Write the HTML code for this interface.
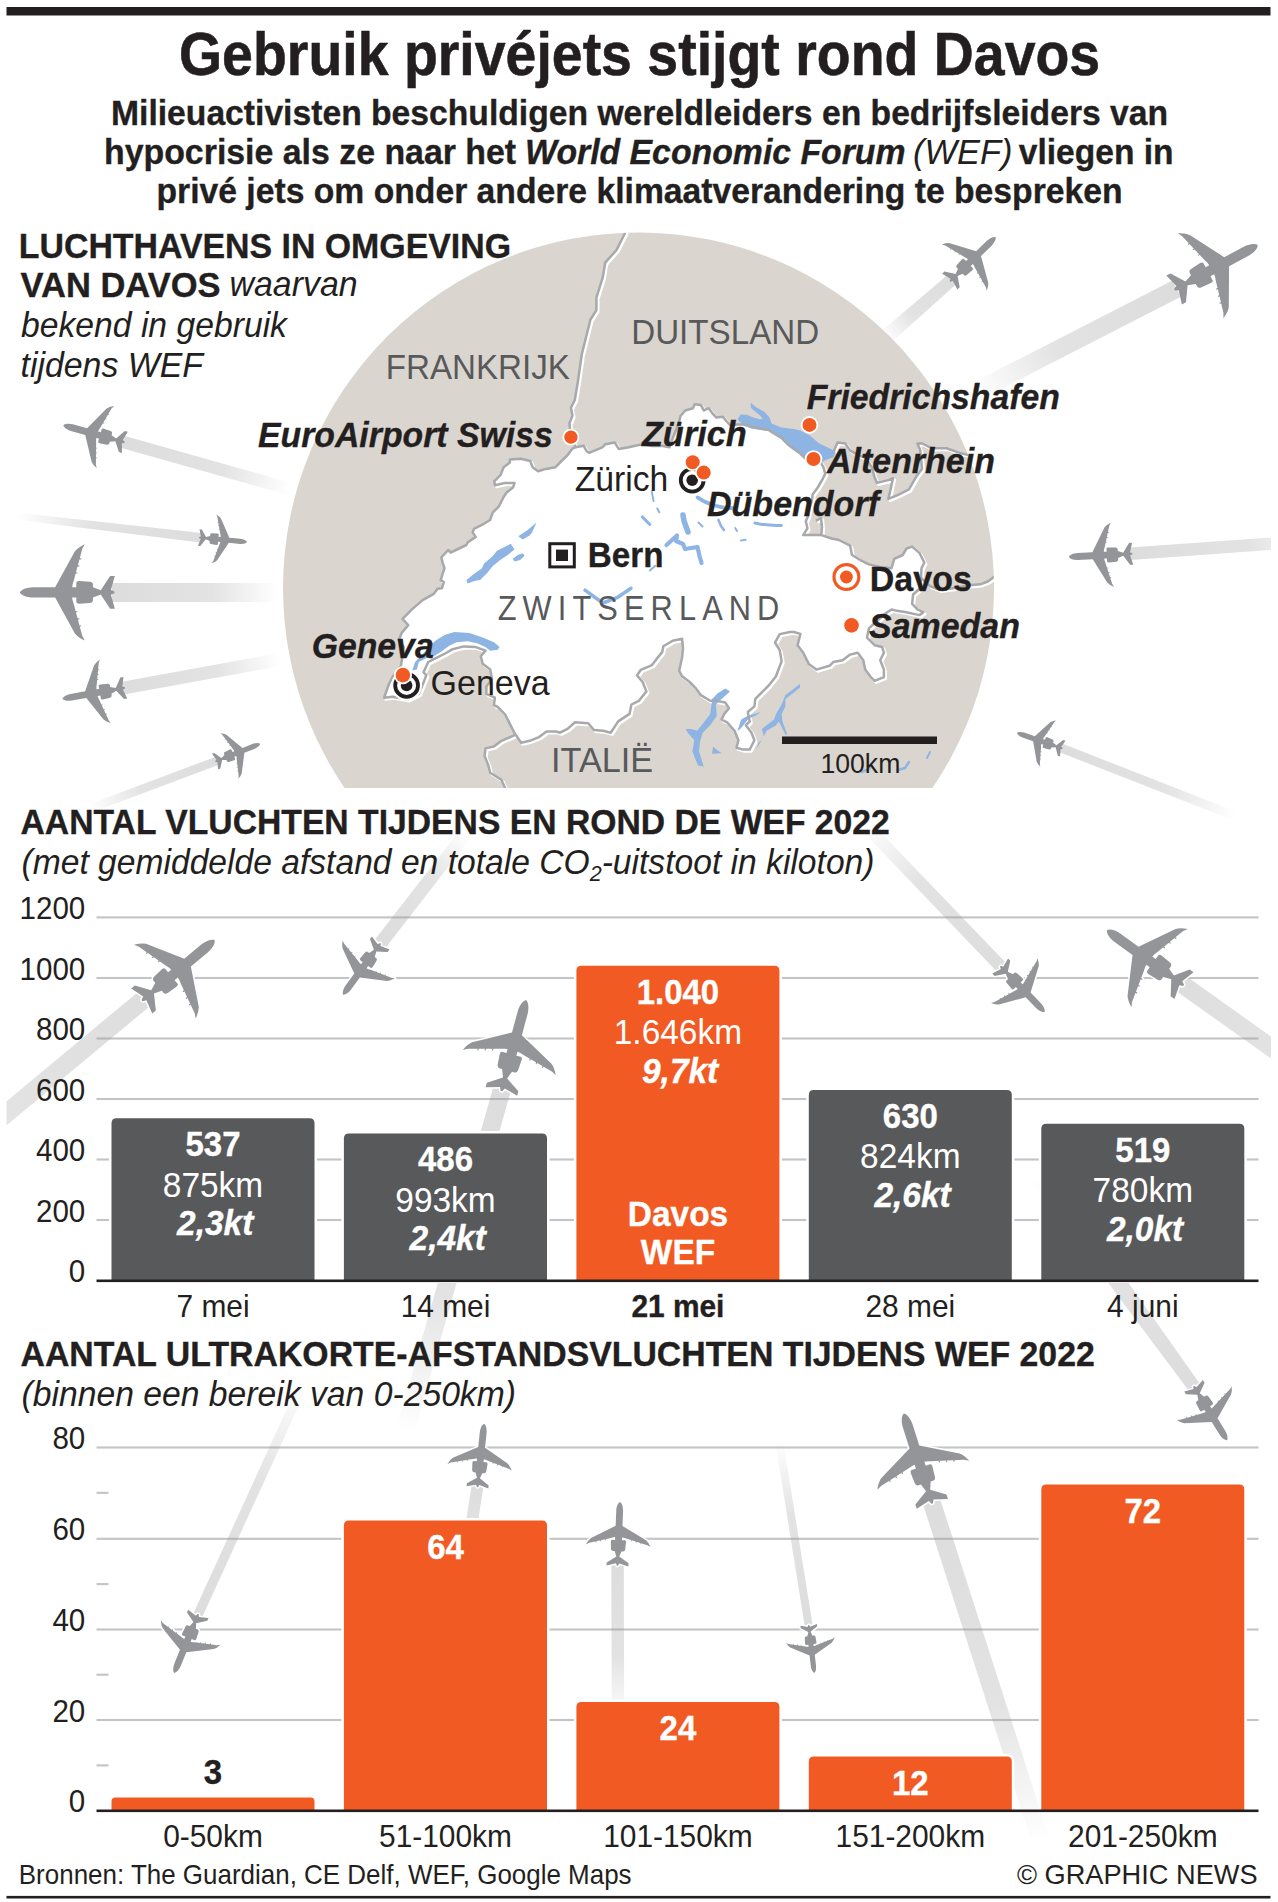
<!DOCTYPE html>
<html lang="nl"><head><meta charset="utf-8"><title>Gebruik privéjets stijgt rond Davos</title>
<style>html,body{margin:0;padding:0;background:#fff}svg{display:block}text{font-family:"Liberation Sans", sans-serif}</style></head>
<body><svg width="1278" height="1902" viewBox="0 0 1278 1902">
<defs><path id="pl" d="M0 0 C1.5 -3 7 -5.2 14 -5.4 L37.5 -5.4 L58.5 -43.5 Q61.5 -47.5 69 -51 L66.3 -46 L57.2 -12 Q55.6 -8 55.6 -5.4 L60 -5.4 L60 -10.2 Q60 -12 63 -12 L74.5 -11.2 Q77.7 -10.8 77.7 -8 L77.7 -5.4 L86 -2.3 L96 -17.3 L101 -17.3 L96.8 -2.6 L100.5 -0.9 L100.5 0 L100.5 0.9 L96.8 2.6 L101 17.3 L96 17.3 L86 2.3 L77.7 5.4 L77.7 8 Q77.7 10.8 74.5 11.2 L63 12 Q60 12 60 10.2 L60 5.4 L55.6 5.4 Q55.6 8 57.2 12 L66.3 46 L69 51 Q61.5 47.5 58.5 43.5 L37.5 5.4 L14 5.4 C7 5.2 1.5 3 0 0 ZM63 -36.1h2.2v1.2h-2.2zM63 34.9h2.2v1.2h-2.2zM61 -28.6h2.2v1.2h-2.2zM61 27.4h2.2v1.2h-2.2zM59 -21.1h2.2v1.2h-2.2zM59 19.9h2.2v1.2h-2.2z"/><linearGradient id="tg0" gradientUnits="userSpaceOnUse" x1="951.7" y1="279.8" x2="885.0" y2="338.0"><stop offset="0" stop-color="#9a9a9a" stop-opacity=".34"/><stop offset=".6" stop-color="#9a9a9a" stop-opacity=".28"/><stop offset="1" stop-color="#9a9a9a" stop-opacity="0"/></linearGradient><linearGradient id="tg1" gradientUnits="userSpaceOnUse" x1="1176.7" y1="288.6" x2="975.0" y2="392.0"><stop offset="0" stop-color="#9a9a9a" stop-opacity=".34"/><stop offset=".6" stop-color="#9a9a9a" stop-opacity=".28"/><stop offset="1" stop-color="#9a9a9a" stop-opacity="0"/></linearGradient><linearGradient id="tg2" gradientUnits="userSpaceOnUse" x1="122.4" y1="441.7" x2="290.0" y2="489.0"><stop offset="0" stop-color="#9a9a9a" stop-opacity=".34"/><stop offset=".6" stop-color="#9a9a9a" stop-opacity=".28"/><stop offset="1" stop-color="#9a9a9a" stop-opacity="0"/></linearGradient><linearGradient id="tg3" gradientUnits="userSpaceOnUse" x1="201.2" y1="537.7" x2="15.0" y2="516.0"><stop offset="0" stop-color="#9a9a9a" stop-opacity=".34"/><stop offset=".6" stop-color="#9a9a9a" stop-opacity=".28"/><stop offset="1" stop-color="#9a9a9a" stop-opacity="0"/></linearGradient><linearGradient id="tg4" gradientUnits="userSpaceOnUse" x1="111.9" y1="592.4" x2="278.0" y2="592.4"><stop offset="0" stop-color="#9a9a9a" stop-opacity=".34"/><stop offset=".6" stop-color="#9a9a9a" stop-opacity=".28"/><stop offset="1" stop-color="#9a9a9a" stop-opacity="0"/></linearGradient><linearGradient id="tg5" gradientUnits="userSpaceOnUse" x1="122.7" y1="688.2" x2="280.0" y2="659.5"><stop offset="0" stop-color="#9a9a9a" stop-opacity=".34"/><stop offset=".6" stop-color="#9a9a9a" stop-opacity=".28"/><stop offset="1" stop-color="#9a9a9a" stop-opacity="0"/></linearGradient><linearGradient id="tg6" gradientUnits="userSpaceOnUse" x1="217.4" y1="760.7" x2="90.0" y2="808.5"><stop offset="0" stop-color="#9a9a9a" stop-opacity=".34"/><stop offset=".6" stop-color="#9a9a9a" stop-opacity=".28"/><stop offset="1" stop-color="#9a9a9a" stop-opacity="0"/></linearGradient><linearGradient id="tg7" gradientUnits="userSpaceOnUse" x1="1130.1" y1="553.9" x2="1330.0" y2="539.5"><stop offset="0" stop-color="#9a9a9a" stop-opacity=".34"/><stop offset=".6" stop-color="#9a9a9a" stop-opacity=".28"/><stop offset="1" stop-color="#9a9a9a" stop-opacity="0"/></linearGradient><linearGradient id="tg8" gradientUnits="userSpaceOnUse" x1="1060.4" y1="747.8" x2="1235.0" y2="816.0"><stop offset="0" stop-color="#9a9a9a" stop-opacity=".34"/><stop offset=".6" stop-color="#9a9a9a" stop-opacity=".28"/><stop offset="1" stop-color="#9a9a9a" stop-opacity="0"/></linearGradient><linearGradient id="tg100" gradientUnits="userSpaceOnUse" x1="144.0" y1="999.1" x2="-10.0" y2="1127.0"><stop offset="0" stop-color="#9a9a9a" stop-opacity=".33"/><stop offset="1" stop-color="#9a9a9a" stop-opacity=".27"/></linearGradient><linearGradient id="tg101" gradientUnits="userSpaceOnUse" x1="379.1" y1="945.1" x2="466.0" y2="833.0"><stop offset="0" stop-color="#9a9a9a" stop-opacity=".34"/><stop offset=".6" stop-color="#9a9a9a" stop-opacity=".28"/><stop offset="1" stop-color="#9a9a9a" stop-opacity="0"/></linearGradient><linearGradient id="tg102" gradientUnits="userSpaceOnUse" x1="502.1" y1="1088.7" x2="405.0" y2="1432.0"><stop offset="0" stop-color="#9a9a9a" stop-opacity=".34"/><stop offset=".6" stop-color="#9a9a9a" stop-opacity=".28"/><stop offset="1" stop-color="#9a9a9a" stop-opacity="0"/></linearGradient><linearGradient id="tg103" gradientUnits="userSpaceOnUse" x1="1002.0" y1="967.9" x2="865.0" y2="825.0"><stop offset="0" stop-color="#9a9a9a" stop-opacity=".34"/><stop offset=".6" stop-color="#9a9a9a" stop-opacity=".28"/><stop offset="1" stop-color="#9a9a9a" stop-opacity="0"/></linearGradient><linearGradient id="tg104" gradientUnits="userSpaceOnUse" x1="1181.6" y1="983.9" x2="1290.0" y2="1061.0"><stop offset="0" stop-color="#9a9a9a" stop-opacity=".33"/><stop offset="1" stop-color="#9a9a9a" stop-opacity=".27"/></linearGradient><linearGradient id="tg105" gradientUnits="userSpaceOnUse" x1="1194.9" y1="1388.1" x2="1040.0" y2="1175.0"><stop offset="0" stop-color="#9a9a9a" stop-opacity=".34"/><stop offset=".6" stop-color="#9a9a9a" stop-opacity=".28"/><stop offset="1" stop-color="#9a9a9a" stop-opacity="0"/></linearGradient><linearGradient id="tg106" gradientUnits="userSpaceOnUse" x1="477.7" y1="1484.8" x2="466.0" y2="1560.0"><stop offset="0" stop-color="#9a9a9a" stop-opacity=".34"/><stop offset=".6" stop-color="#9a9a9a" stop-opacity=".28"/><stop offset="1" stop-color="#9a9a9a" stop-opacity="0"/></linearGradient><linearGradient id="tg107" gradientUnits="userSpaceOnUse" x1="617.6" y1="1563.4" x2="618.0" y2="1720.0"><stop offset="0" stop-color="#9a9a9a" stop-opacity=".34"/><stop offset=".6" stop-color="#9a9a9a" stop-opacity=".28"/><stop offset="1" stop-color="#9a9a9a" stop-opacity="0"/></linearGradient><linearGradient id="tg108" gradientUnits="userSpaceOnUse" x1="931.5" y1="1501.1" x2="1041.0" y2="1842.0"><stop offset="0" stop-color="#9a9a9a" stop-opacity=".34"/><stop offset=".6" stop-color="#9a9a9a" stop-opacity=".28"/><stop offset="1" stop-color="#9a9a9a" stop-opacity="0"/></linearGradient><linearGradient id="tg109" gradientUnits="userSpaceOnUse" x1="808.9" y1="1627.3" x2="779.0" y2="1440.0"><stop offset="0" stop-color="#9a9a9a" stop-opacity=".34"/><stop offset=".6" stop-color="#9a9a9a" stop-opacity=".28"/><stop offset="1" stop-color="#9a9a9a" stop-opacity="0"/></linearGradient><linearGradient id="tg110" gradientUnits="userSpaceOnUse" x1="197.3" y1="1616.2" x2="303.0" y2="1385.0"><stop offset="0" stop-color="#9a9a9a" stop-opacity=".34"/><stop offset=".6" stop-color="#9a9a9a" stop-opacity=".28"/><stop offset="1" stop-color="#9a9a9a" stop-opacity="0"/></linearGradient></defs>
<rect width="1278" height="1902" fill="#fff"/>
<rect x="6.5" y="7" width="1264" height="8.5" fill="#231f20"/>
<clipPath id="tclip"><rect x="6.5" y="0" width="1264.5" height="1902"/></clipPath>
<rect x="6.5" y="1895.9" width="1264" height="2.6" fill="#231f20"/>
<polygon points="947.5,275.0 880.1,332.3 889.9,343.7 955.8,284.6" fill="url(#tg0)" clip-path="url(#tclip)"/>
<polygon points="1172.5,280.4 970.8,383.8 979.2,400.2 1180.9,296.8" fill="url(#tg1)" clip-path="url(#tclip)"/>
<polygon points="120.7,447.7 288.3,495.0 291.7,483.0 124.1,435.7" fill="url(#tg2)" clip-path="url(#tclip)"/>
<polygon points="201.7,533.0 15.4,512.5 14.6,519.5 200.6,542.4" fill="url(#tg3)" clip-path="url(#tclip)"/>
<polygon points="111.9,601.9 278.0,601.9 278.0,582.9 111.9,582.9" fill="url(#tg4)" clip-path="url(#tclip)"/>
<polygon points="123.9,694.6 281.2,665.9 278.8,653.1 121.6,681.8" fill="url(#tg5)" clip-path="url(#tclip)"/>
<polygon points="215.9,756.7 88.5,804.5 91.5,812.5 218.9,764.7" fill="url(#tg6)" clip-path="url(#tclip)"/>
<polygon points="1130.5,560.1 1330.4,545.7 1329.6,533.3 1129.6,547.6" fill="url(#tg7)" clip-path="url(#tclip)"/>
<polygon points="1058.8,752.0 1233.4,820.2 1236.6,811.8 1062.1,743.6" fill="url(#tg8)" clip-path="url(#tclip)"/>
<clipPath id="mapclip"><circle cx="638.5" cy="588" r="355.5"/></clipPath>
<clipPath id="mapclip2"><rect x="0" y="0" width="1278" height="788"/></clipPath>
<g clip-path="url(#mapclip2)"><g clip-path="url(#mapclip)">
<rect x="280" y="230" width="720" height="560" fill="#dbd5cf"/>
<path d="M575.6 447.3 L583.5 445.7 L586.6 451.2 L589.0 452.8 L602.3 447.3 L605.4 444.2 L614.8 442.6 L618.7 448.9 L628.9 447.3 L635.1 445.7 L642.9 444.2 L652.0 446.0 L661.7 445.7 L669.5 447.3 L672.0 440.0 L676.0 430.0 L679.0 422.0 L680.5 416.0 L685.2 410.5 L693.0 408.2 L694.6 404.3 L700.8 405.0 L704.0 410.5 L708.7 408.2 L712.6 413.6 L716.5 417.6 L722.8 416.8 L726.7 421.5 L730.0 425.0 L739.1 424.5 L745.4 424.6 L751.6 426.9 L761.0 428.5 L768.9 430.1 L773.6 433.2 L781.4 437.9 L787.6 444.2 L793.9 448.9 L800.2 453.6 L804.9 458.2 L809.5 459.8 L820.5 462.2 L823.6 467.6 L825.2 473.9 L822.0 480.2 L817.4 488.0 L812.7 494.2 L811.9 500.5 L809.5 508.3 L808.0 516.2 L805.8 521.3 L807.5 528.2 L803.2 535.1 L821.3 535.1 L831.6 538.5 L838.9 540.0 L850.1 545.6 L852.0 555.0 L861.4 560.7 L868.9 564.4 L880.0 567.0 L891.5 568.2 L894.3 558.8 L902.7 555.0 L906.5 548.5 L912.1 546.6 L919.6 553.1 L924.3 562.5 L921.5 568.2 L921.0 578.0 L919.6 588.8 L913.1 594.5 L912.1 603.8 L917.7 609.5 L923.4 612.3 L919.6 615.1 L905.0 612.0 L895.2 610.4 L891.5 609.5 L886.0 613.0 L878.0 620.0 L868.9 628.3 L867.0 637.7 L874.6 645.2 L882.1 647.0 L883.9 652.7 L880.2 660.2 L883.9 669.6 L883.9 677.1 L874.6 680.8 L870.8 677.1 L865.2 669.6 L863.3 660.2 L857.7 652.7 L850.1 654.6 L842.6 660.2 L833.2 662.1 L829.5 665.8 L816.3 669.6 L808.8 663.9 L803.2 652.7 L797.6 645.2 L800.4 633.9 L793.8 632.0 L790.0 632.0 L779.7 634.1 L775.0 642.5 L779.7 650.0 L781.6 661.3 L776.0 676.3 L768.5 685.7 L755.3 698.9 L754.4 706.4 L747.8 712.0 L749.7 721.4 L745.9 725.2 L751.5 732.7 L754.4 740.2 L749.7 749.6 L743.1 749.6 L736.5 747.7 L738.4 740.2 L734.6 730.8 L727.1 722.3 L721.5 719.5 L724.3 713.9 L729.0 708.3 L725.3 702.6 L715.9 700.8 L710.2 700.8 L700.8 695.1 L695.2 687.6 L689.6 682.0 L682.1 676.3 L679.2 670.7 L682.1 657.6 L683.0 648.2 L682.1 638.8 L672.7 640.7 L663.3 646.3 L662.3 651.9 L657.7 657.6 L652.0 665.1 L640.8 669.8 L637.0 675.4 L642.6 682.0 L646.4 691.4 L638.9 700.8 L631.4 704.5 L629.5 713.9 L618.2 721.4 L610.7 732.7 L603.2 730.8 L593.8 729.9 L588.2 723.3 L575.0 722.3 L567.5 728.9 L560.0 732.7 L555.9 731.5 L546.5 731.5 L539.0 737.1 L529.6 740.8 L521.2 742.7 L514.6 733.3 L509.0 722.1 L505.2 714.6 L497.7 707.0 L493.9 705.2 L494.9 697.7 L486.4 693.9 L486.4 686.4 L492.1 678.9 L490.2 669.5 L482.7 663.8 L480.8 656.3 L485.5 650.7 L475.2 646.9 L463.9 646.4 L452.6 649.2 L445.1 653.5 L433.8 659.2 L428.2 662.0 L423.5 672.3 L426.3 675.1 L423.5 682.6 L418.8 693.9 L407.6 699.5 L392.5 696.7 L384.1 697.7 L388.8 684.5 L392.5 677.0 L401.0 665.7 L403.8 646.9 L398.8 639.9 L401.9 632.6 L408.2 625.1 L402.5 618.9 L412.5 608.9 L422.6 600.1 L433.8 593.8 L437.6 588.8 L442.0 588.2 L443.8 582.0 L440.7 580.1 L442.6 573.8 L444.5 568.2 L442.6 562.6 L441.3 557.5 L448.2 550.0 L450.7 552.5 L466.4 545.0 L467.6 542.5 L475.7 536.9 L472.6 532.5 L473.9 528.8 L483.9 523.8 L490.1 520.0 L492.7 512.7 L498.9 506.4 L503.6 497.0 L506.8 492.3 L513.0 487.6 L514.6 482.9 L505.2 482.9 L495.0 485.3 L494.2 481.4 L500.5 475.1 L503.6 467.3 L509.9 462.6 L509.9 459.5 L520.8 458.7 L530.2 461.0 L532.6 467.3 L538.1 471.2 L545.9 468.9 L555.3 467.3 L561.5 461.0 L567.8 454.8 L572.5 448.5Z" fill="#fff" stroke="#fff" stroke-width="1" stroke-linejoin="round"/>
<path d="M575.6 447.3 L583.5 445.7 L586.6 451.2 L589.0 452.8 L602.3 447.3 L605.4 444.2 L614.8 442.6 L618.7 448.9 L628.9 447.3 L635.1 445.7 L642.9 444.2 L652.0 446.0 L661.7 445.7 L669.5 447.3 L672.0 440.0 L676.0 430.0 L679.0 422.0 L680.5 416.0 L685.2 410.5 L693.0 408.2 L694.6 404.3 L700.8 405.0 L704.0 410.5 L708.7 408.2 L712.6 413.6 L716.5 417.6 L722.8 416.8 L726.7 421.5 L730.0 425.0 L739.1 424.5 L745.4 424.6 L751.6 426.9 L761.0 428.5 L768.9 430.1 L773.6 433.2 L781.4 437.9 L787.6 444.2 L793.9 448.9 L800.2 453.6 L804.9 458.2 L809.5 459.8 L820.5 462.2 L823.6 467.6 L825.2 473.9 L822.0 480.2 L817.4 488.0 L812.7 494.2 L811.9 500.5 L809.5 508.3 L808.0 516.2 L805.8 521.3 L807.5 528.2 L803.2 535.1 L821.3 535.1 L831.6 538.5 L838.9 540.0 L850.1 545.6 L852.0 555.0 L861.4 560.7 L868.9 564.4 L880.0 567.0 L891.5 568.2 L894.3 558.8 L902.7 555.0 L906.5 548.5 L912.1 546.6 L919.6 553.1 L924.3 562.5 L921.5 568.2 L921.0 578.0 L919.6 588.8 L913.1 594.5 L912.1 603.8 L917.7 609.5 L923.4 612.3 L919.6 615.1 L905.0 612.0 L895.2 610.4 L891.5 609.5 L886.0 613.0 L878.0 620.0 L868.9 628.3 L867.0 637.7 L874.6 645.2 L882.1 647.0 L883.9 652.7 L880.2 660.2 L883.9 669.6 L883.9 677.1 L874.6 680.8 L870.8 677.1 L865.2 669.6 L863.3 660.2 L857.7 652.7 L850.1 654.6 L842.6 660.2 L833.2 662.1 L829.5 665.8 L816.3 669.6 L808.8 663.9 L803.2 652.7 L797.6 645.2 L800.4 633.9 L793.8 632.0 L790.0 632.0 L779.7 634.1 L775.0 642.5 L779.7 650.0 L781.6 661.3 L776.0 676.3 L768.5 685.7 L755.3 698.9 L754.4 706.4 L747.8 712.0 L749.7 721.4 L745.9 725.2 L751.5 732.7 L754.4 740.2 L749.7 749.6 L743.1 749.6 L736.5 747.7 L738.4 740.2 L734.6 730.8 L727.1 722.3 L721.5 719.5 L724.3 713.9 L729.0 708.3 L725.3 702.6 L715.9 700.8 L710.2 700.8 L700.8 695.1 L695.2 687.6 L689.6 682.0 L682.1 676.3 L679.2 670.7 L682.1 657.6 L683.0 648.2 L682.1 638.8 L672.7 640.7 L663.3 646.3 L662.3 651.9 L657.7 657.6 L652.0 665.1 L640.8 669.8 L637.0 675.4 L642.6 682.0 L646.4 691.4 L638.9 700.8 L631.4 704.5 L629.5 713.9 L618.2 721.4 L610.7 732.7 L603.2 730.8 L593.8 729.9 L588.2 723.3 L575.0 722.3 L567.5 728.9 L560.0 732.7 L555.9 731.5 L546.5 731.5 L539.0 737.1 L529.6 740.8 L521.2 742.7 L514.6 733.3 L509.0 722.1 L505.2 714.6 L497.7 707.0 L493.9 705.2 L494.9 697.7 L486.4 693.9 L486.4 686.4 L492.1 678.9 L490.2 669.5 L482.7 663.8 L480.8 656.3 L485.5 650.7 L475.2 646.9 L463.9 646.4 L452.6 649.2 L445.1 653.5 L433.8 659.2 L428.2 662.0 L423.5 672.3 L426.3 675.1 L423.5 682.6 L418.8 693.9 L407.6 699.5 L392.5 696.7 L384.1 697.7 L388.8 684.5 L392.5 677.0 L401.0 665.7 L403.8 646.9 L398.8 639.9 L401.9 632.6 L408.2 625.1 L402.5 618.9 L412.5 608.9 L422.6 600.1 L433.8 593.8 L437.6 588.8 L442.0 588.2 L443.8 582.0 L440.7 580.1 L442.6 573.8 L444.5 568.2 L442.6 562.6 L441.3 557.5 L448.2 550.0 L450.7 552.5 L466.4 545.0 L467.6 542.5 L475.7 536.9 L472.6 532.5 L473.9 528.8 L483.9 523.8 L490.1 520.0 L492.7 512.7 L498.9 506.4 L503.6 497.0 L506.8 492.3 L513.0 487.6 L514.6 482.9 L505.2 482.9 L495.0 485.3 L494.2 481.4 L500.5 475.1 L503.6 467.3 L509.9 462.6 L509.9 459.5 L520.8 458.7 L530.2 461.0 L532.6 467.3 L538.1 471.2 L545.9 468.9 L555.3 467.3 L561.5 461.0 L567.8 454.8 L572.5 448.5Z" fill="none" stroke="#fff" stroke-width="2.8" stroke-linejoin="round" transform="translate(1.7 1.7)"/>
<path d="M575.6 447.0 L572.0 440.0 L570.1 429.7 L569.4 423.5 L572.5 415.6 L570.9 407.8 L574.8 400.0 L577.7 382.8 L581.8 354.3 L589.9 321.7 L590.2 320.0 L596.4 310.2 L596.4 297.6 L602.7 277.6 L605.2 262.6 L616.5 250.0 L624.7 233.8 L626.0 228.0" fill="none" stroke="#fff" stroke-width="2.8" stroke-linejoin="round" transform="translate(1.7 1.7)"/>
<path d="M833.8 451.0 L837.6 442.5 L845.1 443.5 L850.2 450.4 L858.0 455.1 L865.9 458.2 L872.1 467.6 L874.2 476.3 L877.0 482.9 L888.3 480.1 L893.0 478.2 L890.1 491.4 L888.3 498.9 L897.7 495.1 L908.9 489.5 L916.4 476.3 L922.1 468.8 L921.0 458.0 L920.2 450.0 L917.4 443.5 L922.1 443.5 L931.5 448.2 L946.5 448.2 L959.6 452.9 L967.1 454.7 L975.0 456.0" fill="none" stroke="#fff" stroke-width="2.8" stroke-linejoin="round" transform="translate(1.7 1.7)"/>
<path d="M921.0 578.0 L930.0 586.0 L940.0 590.0 L955.0 588.0 L969.0 585.3 L980.3 584.3 L987.8 581.5 L995.3 575.9 L1000.0 572.0" fill="none" stroke="#fff" stroke-width="2.8" stroke-linejoin="round" transform="translate(1.7 1.7)"/>
<path d="M514.6 735.2 L501.5 740.8 L493.9 746.5 L485.5 748.4 L484.6 755.9 L488.3 765.3 L490.2 772.8 L501.5 779.9 L506.0 790.0" fill="none" stroke="#fff" stroke-width="2.8" stroke-linejoin="round" transform="translate(1.7 1.7)"/>
<path d="M821.3 535.1 L822.0 527.0 L821.0 518.0 L815.8 520.8" fill="none" stroke="#fff" stroke-width="2.8" stroke-linejoin="round" transform="translate(1.7 1.7)"/>
<polygon points="750.6,402.5 755.8,407.0 764.6,411.9 769.3,417.3 771.6,423.6 781.4,427.5 793.9,429.1 800.2,430.6 809.5,435.3 818.9,443.2 829.9,448.6 835.6,451.5 833.5,457.2 825.2,460.3 820.5,462.7 809.5,460.3 804.9,458.7 800.2,454.1 793.9,449.4 787.6,444.7 781.4,438.4 773.6,433.7 768.9,431.1 761.0,430.0 751.6,428.4 744.4,426.1 737.6,419.6 740.5,414.5 746.9,414.8 753.2,417.4 760.0,419.3 762.7,419.0 760.1,415.6 755.4,411.8 751.0,407.9" fill="#8db4e2"/>
<polygon points="412.3,670.4 415.1,662.0 432.0,644.1 435.7,640.4 445.1,634.7 454.5,631.9 469.5,632.9 482.7,637.6 494.0,642.3 499.6,646.9 497.7,649.8 490.2,650.7 485.5,646.9 477.0,643.2 467.7,641.3 456.4,642.3 448.9,646.0 441.4,651.6 433.8,656.3 426.3,658.2 418.8,662.0 416.9,669.5" fill="#8db4e2"/>
<polygon points="466.4,580.1 472.6,575.1 482.0,568.2 483.9,563.8 492.6,556.3 497.0,550.7 510.8,543.8 514.5,549.4 507.7,555.0 500.2,560.1 492.6,566.3 487.6,572.6 480.1,580.1 475.1,580.7 467.6,583.6" fill="#8db4e2"/>
<polygon points="518.3,536.3 527.7,530.0 536.4,522.5 532.1,532.5 529.6,535.6 522.7,539.4" fill="#8db4e2"/>
<polygon points="512.7,558.8 517.7,555.0 522.7,553.2 524.6,555.7 520.2,560.1 514.5,561.6" fill="#8db4e2"/>
<polygon points="725.3,688.5 730.0,691.4 721.5,698.9 715.9,704.5 716.8,715.8 710.2,725.2 702.7,732.7 699.9,742.1 699.0,751.5 703.7,766.5 698.0,765.5 692.4,751.5 694.3,740.2 687.7,732.7 685.8,728.9 691.5,728.9 697.1,730.8 704.6,721.4 710.2,713.9 711.2,706.4 712.1,698.9 717.7,693.2" fill="#8db4e2"/>
<polygon points="713.0,746.8 721.5,753.3 712.1,753.7" fill="#8db4e2"/>
<polygon points="737.5,730.8 741.2,719.5 747.8,715.8 760.9,712.0 755.3,715.8 748.7,718.6 745.0,723.3 740.3,728.9" fill="#8db4e2"/>
<polygon points="800.0,683.8 792.9,689.5 785.4,695.1 781.6,704.5 776.0,713.9 774.1,719.5 761.9,728.9 763.8,736.4 756.2,749.6 759.0,742.1 761.9,740.2 766.6,730.8 776.0,725.2 778.8,721.4 785.4,734.5 787.3,734.5 782.5,721.4 781.6,713.9 785.4,706.4 785.4,698.9 792.9,693.2 800.0,687.6" fill="#8db4e2"/>
<path d="M697.7 497.5Q712 508 735 508.3" fill="none" stroke="#8db4e2" stroke-width="4" stroke-linecap="round" stroke-linejoin="round"/>
<path d="M755 523Q768 526 781.3 525.4" fill="none" stroke="#8db4e2" stroke-width="3" stroke-linecap="round" stroke-linejoin="round"/>
<path d="M683 515L684 521L688 532" fill="none" stroke="#8db4e2" stroke-width="5.5" stroke-linecap="round" stroke-linejoin="round"/>
<path d="M666.5 545L677 535.5L676 541L683 544L685 549L697.5 547L699.5 556L701.5 563" fill="none" stroke="#8db4e2" stroke-width="4.2" stroke-linecap="round" stroke-linejoin="round"/>
<path d="M651.7 491.6L653.6 501" fill="none" stroke="#8db4e2" stroke-width="2" stroke-linecap="round" stroke-linejoin="round"/>
<path d="M657.3 508.5L659.2 512.3" fill="none" stroke="#8db4e2" stroke-width="2" stroke-linecap="round" stroke-linejoin="round"/>
<path d="M642.3 516.9L649.8 524.5" fill="none" stroke="#8db4e2" stroke-width="3" stroke-linecap="round" stroke-linejoin="round"/>
<path d="M698.5 522.5L702.5 526.5" fill="none" stroke="#8db4e2" stroke-width="2" stroke-linecap="round" stroke-linejoin="round"/>
<path d="M718.4 519.8L721 526L724 530.1" fill="none" stroke="#8db4e2" stroke-width="2.5" stroke-linecap="round" stroke-linejoin="round"/>
<path d="M735.2 528L737 531" fill="none" stroke="#8db4e2" stroke-width="2" stroke-linecap="round" stroke-linejoin="round"/>
<path d="M741 540.4L745.6 539.8" fill="none" stroke="#8db4e2" stroke-width="2" stroke-linecap="round" stroke-linejoin="round"/>
<path d="M649.8 570.5L655.4 565.8" fill="none" stroke="#8db4e2" stroke-width="2" stroke-linecap="round" stroke-linejoin="round"/>
<path d="M585 590.2L600 601" fill="none" stroke="#8db4e2" stroke-width="3.5" stroke-linecap="round" stroke-linejoin="round"/>
<path d="M603 603L617 597.7L631 588.3" fill="none" stroke="#8db4e2" stroke-width="3.5" stroke-linecap="round" stroke-linejoin="round"/>
<path d="M898 770L905 768L909 762" fill="none" stroke="#8db4e2" stroke-width="2.5" stroke-linecap="round" stroke-linejoin="round"/>
<path d="M927 758L930 752" fill="none" stroke="#8db4e2" stroke-width="2" stroke-linecap="round" stroke-linejoin="round"/>
<path d="M862 772L870 768" fill="none" stroke="#8db4e2" stroke-width="2.5" stroke-linecap="round" stroke-linejoin="round"/>
<path d="M575.6 447.3 L583.5 445.7 L586.6 451.2 L589.0 452.8 L602.3 447.3 L605.4 444.2 L614.8 442.6 L618.7 448.9 L628.9 447.3 L635.1 445.7 L642.9 444.2 L652.0 446.0 L661.7 445.7 L669.5 447.3 L672.0 440.0 L676.0 430.0 L679.0 422.0 L680.5 416.0 L685.2 410.5 L693.0 408.2 L694.6 404.3 L700.8 405.0 L704.0 410.5 L708.7 408.2 L712.6 413.6 L716.5 417.6 L722.8 416.8 L726.7 421.5 L730.0 425.0 L739.1 424.5 L745.4 424.6 L751.6 426.9 L761.0 428.5 L768.9 430.1 L773.6 433.2 L781.4 437.9 L787.6 444.2 L793.9 448.9 L800.2 453.6 L804.9 458.2 L809.5 459.8 L820.5 462.2 L823.6 467.6 L825.2 473.9 L822.0 480.2 L817.4 488.0 L812.7 494.2 L811.9 500.5 L809.5 508.3 L808.0 516.2 L805.8 521.3 L807.5 528.2 L803.2 535.1 L821.3 535.1 L831.6 538.5 L838.9 540.0 L850.1 545.6 L852.0 555.0 L861.4 560.7 L868.9 564.4 L880.0 567.0 L891.5 568.2 L894.3 558.8 L902.7 555.0 L906.5 548.5 L912.1 546.6 L919.6 553.1 L924.3 562.5 L921.5 568.2 L921.0 578.0 L919.6 588.8 L913.1 594.5 L912.1 603.8 L917.7 609.5 L923.4 612.3 L919.6 615.1 L905.0 612.0 L895.2 610.4 L891.5 609.5 L886.0 613.0 L878.0 620.0 L868.9 628.3 L867.0 637.7 L874.6 645.2 L882.1 647.0 L883.9 652.7 L880.2 660.2 L883.9 669.6 L883.9 677.1 L874.6 680.8 L870.8 677.1 L865.2 669.6 L863.3 660.2 L857.7 652.7 L850.1 654.6 L842.6 660.2 L833.2 662.1 L829.5 665.8 L816.3 669.6 L808.8 663.9 L803.2 652.7 L797.6 645.2 L800.4 633.9 L793.8 632.0 L790.0 632.0 L779.7 634.1 L775.0 642.5 L779.7 650.0 L781.6 661.3 L776.0 676.3 L768.5 685.7 L755.3 698.9 L754.4 706.4 L747.8 712.0 L749.7 721.4 L745.9 725.2 L751.5 732.7 L754.4 740.2 L749.7 749.6 L743.1 749.6 L736.5 747.7 L738.4 740.2 L734.6 730.8 L727.1 722.3 L721.5 719.5 L724.3 713.9 L729.0 708.3 L725.3 702.6 L715.9 700.8 L710.2 700.8 L700.8 695.1 L695.2 687.6 L689.6 682.0 L682.1 676.3 L679.2 670.7 L682.1 657.6 L683.0 648.2 L682.1 638.8 L672.7 640.7 L663.3 646.3 L662.3 651.9 L657.7 657.6 L652.0 665.1 L640.8 669.8 L637.0 675.4 L642.6 682.0 L646.4 691.4 L638.9 700.8 L631.4 704.5 L629.5 713.9 L618.2 721.4 L610.7 732.7 L603.2 730.8 L593.8 729.9 L588.2 723.3 L575.0 722.3 L567.5 728.9 L560.0 732.7 L555.9 731.5 L546.5 731.5 L539.0 737.1 L529.6 740.8 L521.2 742.7 L514.6 733.3 L509.0 722.1 L505.2 714.6 L497.7 707.0 L493.9 705.2 L494.9 697.7 L486.4 693.9 L486.4 686.4 L492.1 678.9 L490.2 669.5 L482.7 663.8 L480.8 656.3 L485.5 650.7 L475.2 646.9 L463.9 646.4 L452.6 649.2 L445.1 653.5 L433.8 659.2 L428.2 662.0 L423.5 672.3 L426.3 675.1 L423.5 682.6 L418.8 693.9 L407.6 699.5 L392.5 696.7 L384.1 697.7 L388.8 684.5 L392.5 677.0 L401.0 665.7 L403.8 646.9 L398.8 639.9 L401.9 632.6 L408.2 625.1 L402.5 618.9 L412.5 608.9 L422.6 600.1 L433.8 593.8 L437.6 588.8 L442.0 588.2 L443.8 582.0 L440.7 580.1 L442.6 573.8 L444.5 568.2 L442.6 562.6 L441.3 557.5 L448.2 550.0 L450.7 552.5 L466.4 545.0 L467.6 542.5 L475.7 536.9 L472.6 532.5 L473.9 528.8 L483.9 523.8 L490.1 520.0 L492.7 512.7 L498.9 506.4 L503.6 497.0 L506.8 492.3 L513.0 487.6 L514.6 482.9 L505.2 482.9 L495.0 485.3 L494.2 481.4 L500.5 475.1 L503.6 467.3 L509.9 462.6 L509.9 459.5 L520.8 458.7 L530.2 461.0 L532.6 467.3 L538.1 471.2 L545.9 468.9 L555.3 467.3 L561.5 461.0 L567.8 454.8 L572.5 448.5Z" fill="none" stroke="#a7a9ac" stroke-width="2.5" stroke-linejoin="round"/>
<path d="M575.6 447.0 L572.0 440.0 L570.1 429.7 L569.4 423.5 L572.5 415.6 L570.9 407.8 L574.8 400.0 L577.7 382.8 L581.8 354.3 L589.9 321.7 L590.2 320.0 L596.4 310.2 L596.4 297.6 L602.7 277.6 L605.2 262.6 L616.5 250.0 L624.7 233.8 L626.0 228.0" fill="none" stroke="#a7a9ac" stroke-width="2.5" stroke-linejoin="round"/>
<path d="M833.8 451.0 L837.6 442.5 L845.1 443.5 L850.2 450.4 L858.0 455.1 L865.9 458.2 L872.1 467.6 L874.2 476.3 L877.0 482.9 L888.3 480.1 L893.0 478.2 L890.1 491.4 L888.3 498.9 L897.7 495.1 L908.9 489.5 L916.4 476.3 L922.1 468.8 L921.0 458.0 L920.2 450.0 L917.4 443.5 L922.1 443.5 L931.5 448.2 L946.5 448.2 L959.6 452.9 L967.1 454.7 L975.0 456.0" fill="none" stroke="#a7a9ac" stroke-width="2.5" stroke-linejoin="round"/>
<path d="M921.0 578.0 L930.0 586.0 L940.0 590.0 L955.0 588.0 L969.0 585.3 L980.3 584.3 L987.8 581.5 L995.3 575.9 L1000.0 572.0" fill="none" stroke="#a7a9ac" stroke-width="2.5" stroke-linejoin="round"/>
<path d="M514.6 735.2 L501.5 740.8 L493.9 746.5 L485.5 748.4 L484.6 755.9 L488.3 765.3 L490.2 772.8 L501.5 779.9 L506.0 790.0" fill="none" stroke="#a7a9ac" stroke-width="2.5" stroke-linejoin="round"/>
<path d="M821.3 535.1 L822.0 527.0 L821.0 518.0 L815.8 520.8" fill="none" stroke="#a7a9ac" stroke-width="2.5" stroke-linejoin="round"/>
</g></g>
<rect x="782" y="736.5" width="155" height="7.5" fill="#231f20"/>
<text transform="translate(860.4 773.0) scale(0.9479 1)" font-size="28.1" text-anchor="middle" fill="#231f20" xml:space="preserve">100km</text>
<text transform="translate(385.7 378.7) scale(0.9479 1)" font-size="35.0" fill="#58595b" xml:space="preserve">FRANKRIJK</text>
<text transform="translate(631.2 344.1) scale(0.9479 1)" font-size="35.0" fill="#58595b" xml:space="preserve">DUITSLAND</text>
<text transform="translate(497.7 620.4) scale(0.8721 1)" font-size="35.3" letter-spacing="7" fill="#58595b" xml:space="preserve">ZWITSERLAND</text>
<text transform="translate(551.0 772.3) scale(0.9710 1)" font-size="35.3" fill="#58595b" xml:space="preserve">ITALIË</text>
<circle cx="692.2" cy="480.2" r="11.4" fill="#fff" stroke="#231f20" stroke-width="3.8"/><circle cx="692.2" cy="480.2" r="5.8" fill="#231f20"/>
<circle cx="406.6" cy="685.4" r="15.4" fill="#fff"/><circle cx="406.6" cy="685.4" r="11.4" fill="#fff" stroke="#231f20" stroke-width="3.8"/><circle cx="406.6" cy="685.4" r="5.8" fill="#231f20"/>
<rect x="549.8" y="543.7" width="24.5" height="23.2" fill="#fff" stroke="#231f20" stroke-width="3"/><rect x="556" y="549.6" width="12" height="11.4" fill="#231f20"/>
<circle cx="846.4" cy="577" r="12.4" fill="#fff" stroke="#f15a22" stroke-width="3.2"/><circle cx="846.4" cy="577" r="6.4" fill="#f15a22"/>
<circle cx="570.9" cy="437.2" r="8.4" fill="#fff"/><circle cx="570.9" cy="437.2" r="6.6" fill="#f15a22"/>
<circle cx="692.7" cy="462.2" r="8.8" fill="#fff"/><circle cx="692.7" cy="462.2" r="7" fill="#f15a22"/>
<circle cx="703.7" cy="472.6" r="8.8" fill="#fff"/><circle cx="703.7" cy="472.6" r="7" fill="#f15a22"/>
<circle cx="809.5" cy="424.9" r="8.8" fill="#fff"/><circle cx="809.5" cy="424.9" r="7" fill="#f15a22"/>
<circle cx="813.5" cy="459" r="8.8" fill="#fff"/><circle cx="813.5" cy="459" r="7" fill="#f15a22"/>
<circle cx="851.5" cy="625.4" r="7.3" fill="#f15a22"/>
<circle cx="402.9" cy="675.1" r="9.1" fill="#fff"/><circle cx="402.9" cy="675.1" r="7.3" fill="#f15a22"/>
<text transform="translate(258.0 446.5) scale(0.9573 1)" font-size="35.3" font-weight="bold" font-style="italic" fill="#231f20" stroke="#231f20" stroke-width="0.35" xml:space="preserve">EuroAirport Swiss</text>
<text transform="translate(641.9 446.0) scale(0.9727 1)" font-size="35.3" font-weight="bold" font-style="italic" fill="#231f20" stroke="#231f20" stroke-width="0.35" xml:space="preserve">Zürich</text>
<text transform="translate(574.8 490.6) scale(0.9676 1)" font-size="34.8" fill="#231f20" xml:space="preserve">Zürich</text>
<text transform="translate(707.0 516.0) scale(0.9642 1)" font-size="35.3" font-weight="bold" font-style="italic" fill="#231f20" stroke="#231f20" stroke-width="0.35" xml:space="preserve">Dübendorf</text>
<text transform="translate(806.7 408.6) scale(0.9563 1)" font-size="35.3" font-weight="bold" font-style="italic" fill="#231f20" stroke="#231f20" stroke-width="0.35" xml:space="preserve">Friedrichshafen</text>
<text transform="translate(827.0 473.3) scale(0.9621 1)" font-size="35.3" font-weight="bold" font-style="italic" fill="#231f20" stroke="#231f20" stroke-width="0.35" xml:space="preserve">Altenrhein</text>
<text transform="translate(587.8 567.0) scale(0.9684 1)" font-size="34.3" font-weight="bold" fill="#231f20" stroke="#231f20" stroke-width="0.35" xml:space="preserve">Bern</text>
<text transform="translate(869.8 591.2) scale(0.9713 1)" font-size="35.0" font-weight="bold" fill="#231f20" stroke="#231f20" stroke-width="0.35" xml:space="preserve">Davos</text>
<text transform="translate(311.7 657.8) scale(0.9649 1)" font-size="35.0" font-weight="bold" font-style="italic" fill="#231f20" stroke="#231f20" stroke-width="0.35" xml:space="preserve">Geneva</text>
<text transform="translate(430.5 694.8) scale(0.9726 1)" font-size="35.0" fill="#231f20" xml:space="preserve">Geneva</text>
<text transform="translate(869.1 637.6) scale(0.9640 1)" font-size="35.2" font-weight="bold" font-style="italic" fill="#231f20" stroke="#231f20" stroke-width="0.35" xml:space="preserve">Samedan</text>
<use href="#pl" transform="translate(995.608 237.095) rotate(135.8) scale(0.633 0.633)" fill="#939598"/>
<use href="#pl" transform="translate(1257.7 245) rotate(151.7) scale(0.94 0.945)" fill="#939598"/>
<use href="#pl" transform="translate(63.3187 425.229) rotate(15.6) scale(0.633 0.633)" fill="#939598"/>
<use href="#pl" transform="translate(247.002 541.954) rotate(185.3) scale(0.48 0.48)" fill="#939598"/>
<use href="#pl" transform="translate(19.9 592.4) rotate(0) scale(0.94 0.945)" fill="#939598"/>
<use href="#pl" transform="translate(62.3522 698.776) rotate(-9.9) scale(0.633 0.633)" fill="#939598"/>
<use href="#pl" transform="translate(260.165 743.817) rotate(158.5) scale(0.48 0.48)" fill="#939598"/>
<use href="#pl" transform="translate(1068.85 556.982) rotate(-2.9) scale(0.633 0.633)" fill="#939598"/>
<use href="#pl" transform="translate(1016.95 732.826) rotate(19) scale(0.48 0.48)" fill="#939598"/>
<text transform="translate(179.0 74.8) scale(0.9046 1)" font-size="61.3" font-weight="bold" fill="#231f20" stroke="#231f20" stroke-width="0.6" xml:space="preserve">Gebruik privéjets stijgt rond Davos</text>
<text transform="translate(111.0 124.8) scale(0.9541 1)" font-size="35.3" font-weight="bold" fill="#231f20" stroke="#231f20" stroke-width="0.35" xml:space="preserve">Milieuactivisten beschuldigen wereldleiders en bedrijfsleiders van</text>
<text transform="translate(104.0 163.8) scale(0.9595 1)" font-size="35.3" font-weight="bold" fill="#231f20" stroke="#231f20" stroke-width="0.35" xml:space="preserve">hypocrisie als ze naar het</text>
<text transform="translate(525.1 163.8) scale(0.9575 1)" font-size="35.3" font-weight="bold" font-style="italic" fill="#231f20" stroke="#231f20" stroke-width="0.35" xml:space="preserve">World Economic Forum</text>
<text transform="translate(913.1 163.8) scale(0.9764 1)" font-size="35.3" font-style="italic" fill="#231f20" xml:space="preserve">(WEF)</text>
<text transform="translate(1018.8 163.8) scale(0.9512 1)" font-size="35.3" font-weight="bold" fill="#231f20" stroke="#231f20" stroke-width="0.35" xml:space="preserve">vliegen in</text>
<text transform="translate(156.5 202.8) scale(0.9544 1)" font-size="35.3" font-weight="bold" fill="#231f20" stroke="#231f20" stroke-width="0.35" xml:space="preserve">privé jets om onder andere klimaatverandering te bespreken</text>
<text transform="translate(18.8 257.7) scale(0.9596 1)" font-size="35.3" font-weight="bold" fill="#231f20" stroke="#231f20" stroke-width="0.35" xml:space="preserve">LUCHTHAVENS IN OMGEVING</text>
<text transform="translate(20.5 296.5) scale(0.9779 1)" font-size="35.3" font-weight="bold" fill="#231f20" stroke="#231f20" stroke-width="0.35" xml:space="preserve">VAN DAVOS</text>
<text transform="translate(229.5 296.3) scale(0.9608 1)" font-size="35.3" font-style="italic" fill="#231f20" xml:space="preserve">waarvan</text>
<text transform="translate(21.0 336.8) scale(0.9546 1)" font-size="35.3" font-style="italic" fill="#231f20" xml:space="preserve">bekend in gebruik</text>
<text transform="translate(20.5 376.7) scale(0.9598 1)" font-size="35.3" font-style="italic" fill="#231f20" xml:space="preserve">tijdens WEF</text>
<rect x="96.5" y="916.35" width="1162" height="2.1" fill="#c2c4c6"/>
<rect x="96.5" y="976.95" width="1162" height="2.1" fill="#c2c4c6"/>
<rect x="96.5" y="1037.45" width="1162" height="2.1" fill="#c2c4c6"/>
<rect x="96.5" y="1097.95" width="1162" height="2.1" fill="#c2c4c6"/>
<rect x="96.5" y="1158.45" width="1162" height="2.1" fill="#c2c4c6"/>
<rect x="96.5" y="1218.95" width="1162" height="2.1" fill="#c2c4c6"/>
<rect x="96.5" y="1446.45" width="1162" height="2.1" fill="#c2c4c6"/>
<rect x="96.5" y="1537.75" width="1162" height="2.1" fill="#c2c4c6"/>
<rect x="96.5" y="1628.45" width="1162" height="2.1" fill="#c2c4c6"/>
<rect x="96.5" y="1718.95" width="1162" height="2.1" fill="#c2c4c6"/>
<rect x="96.5" y="1491.75" width="12" height="2.1" fill="#c2c4c6"/>
<rect x="96.5" y="1583.05" width="12" height="2.1" fill="#c2c4c6"/>
<rect x="96.5" y="1673.65" width="12" height="2.1" fill="#c2c4c6"/>
<rect x="96.5" y="1764.35" width="12" height="2.1" fill="#c2c4c6"/>
<polygon points="138.1,991.9 -15.9,1119.9 -4.1,1134.1 149.9,1006.2" fill="url(#tg100)" clip-path="url(#tclip)"/>
<polygon points="384.5,949.2 471.3,837.1 460.7,828.9 373.8,941.0" fill="url(#tg101)" clip-path="url(#tclip)"/>
<polygon points="493.5,1086.3 396.3,1429.5 413.7,1434.5 510.8,1091.2" fill="url(#tg102)" clip-path="url(#tclip)"/>
<polygon points="1006.5,963.6 869.5,820.7 860.5,829.3 997.5,972.2" fill="url(#tg103)" clip-path="url(#tclip)"/>
<polygon points="1176.4,991.2 1284.8,1068.3 1295.2,1053.7 1186.8,976.6" fill="url(#tg104)" clip-path="url(#tclip)"/>
<polygon points="1200.2,1384.3 1048.1,1169.1 1031.9,1180.9 1189.7,1391.9" fill="url(#tg105)" clip-path="url(#tclip)"/>
<polygon points="471.8,1483.9 460.1,1559.1 471.9,1560.9 483.6,1485.7" fill="url(#tg106)" clip-path="url(#tclip)"/>
<polygon points="611.3,1563.4 611.8,1720.0 624.2,1720.0 623.8,1563.3" fill="url(#tg107)" clip-path="url(#tclip)"/>
<polygon points="922.9,1503.9 1032.4,1844.8 1049.6,1839.2 940.0,1498.4" fill="url(#tg108)" clip-path="url(#tclip)"/>
<polygon points="812.9,1626.7 782.9,1439.4 775.1,1440.6 805.0,1627.9" fill="url(#tg109)" clip-path="url(#tclip)"/>
<polygon points="201.7,1618.2 307.3,1387.0 298.7,1383.0 193.0,1614.3" fill="url(#tg110)" clip-path="url(#tclip)"/>
<path d="M111.5 1280.5V1123.2Q111.5 1118.2 116.5 1118.2H309.5Q314.5 1118.2 314.5 1123.2V1280.5Z" fill="#58595b" stroke="#fff" stroke-width="5" paint-order="stroke"/>
<path d="M343.9 1280.5V1138.4Q343.9 1133.4 348.9 1133.4H542.0Q547.0 1133.4 547.0 1138.4V1280.5Z" fill="#58595b" stroke="#fff" stroke-width="5" paint-order="stroke"/>
<path d="M576.4 1280.5V970.7Q576.4 965.7 581.4 965.7H774.4Q779.4 965.7 779.4 970.7V1280.5Z" fill="#f15a22" stroke="#fff" stroke-width="5" paint-order="stroke"/>
<path d="M808.8 1280.5V1095.0Q808.8 1090 813.8 1090H1006.8Q1011.8 1090 1011.8 1095.0V1280.5Z" fill="#58595b" stroke="#fff" stroke-width="5" paint-order="stroke"/>
<path d="M1041.3 1280.5V1128.7Q1041.3 1123.7 1046.3 1123.7H1239.3Q1244.3 1123.7 1244.3 1128.7V1280.5Z" fill="#58595b" stroke="#fff" stroke-width="5" paint-order="stroke"/>
<rect x="96.5" y="1279.5" width="1162" height="2.6" fill="#231f20"/>
<path d="M111.5 1810.5V1801.5Q111.5 1797.5 115.5 1797.5H310.5Q314.5 1797.5 314.5 1801.5V1810.5Z" fill="#f15a22" stroke="#fff" stroke-width="5" paint-order="stroke"/>
<path d="M343.9 1810.5V1525.5Q343.9 1520.5 348.9 1520.5H542.0Q547.0 1520.5 547.0 1525.5V1810.5Z" fill="#f15a22" stroke="#fff" stroke-width="5" paint-order="stroke"/>
<path d="M576.4 1810.5V1707.0Q576.4 1702 581.4 1702H774.4Q779.4 1702 779.4 1707.0V1810.5Z" fill="#f15a22" stroke="#fff" stroke-width="5" paint-order="stroke"/>
<path d="M808.8 1810.5V1761.5Q808.8 1756.5 813.8 1756.5H1006.8Q1011.8 1756.5 1011.8 1761.5V1810.5Z" fill="#f15a22" stroke="#fff" stroke-width="5" paint-order="stroke"/>
<path d="M1041.3 1810.5V1489.5Q1041.3 1484.5 1046.3 1484.5H1239.3Q1244.3 1484.5 1244.3 1489.5V1810.5Z" fill="#f15a22" stroke="#fff" stroke-width="5" paint-order="stroke"/>
<rect x="96.5" y="1809.5" width="1162" height="2.6" fill="#231f20"/>
<text transform="translate(20.5 833.6) scale(0.9549 1)" font-size="35.3" font-weight="bold" fill="#231f20" stroke="#231f20" stroke-width="0.35" xml:space="preserve">AANTAL VLUCHTEN TIJDENS EN ROND DE WEF 2022</text>
<text transform="translate(21.5 873.8) scale(0.9526 1)" font-size="35.3" font-style="italic" fill="#231f20" xml:space="preserve">(met gemiddelde afstand en totale CO<tspan font-size="22.6" dy="7">2</tspan><tspan dy="-7">-uitstoot in kiloton)</tspan></text>
<text transform="translate(85.3 919.0) scale(0.9700 1)" font-size="30.5" text-anchor="end" fill="#231f20" xml:space="preserve">1200</text>
<text transform="translate(85.3 979.6) scale(0.9700 1)" font-size="30.5" text-anchor="end" fill="#231f20" xml:space="preserve">1000</text>
<text transform="translate(85.3 1040.1) scale(0.9700 1)" font-size="30.5" text-anchor="end" fill="#231f20" xml:space="preserve">800</text>
<text transform="translate(85.3 1100.6) scale(0.9700 1)" font-size="30.5" text-anchor="end" fill="#231f20" xml:space="preserve">600</text>
<text transform="translate(85.3 1161.1) scale(0.9700 1)" font-size="30.5" text-anchor="end" fill="#231f20" xml:space="preserve">400</text>
<text transform="translate(85.3 1221.6) scale(0.9700 1)" font-size="30.5" text-anchor="end" fill="#231f20" xml:space="preserve">200</text>
<text transform="translate(85.3 1282.1) scale(0.9700 1)" font-size="30.5" text-anchor="end" fill="#231f20" xml:space="preserve">0</text>
<text transform="translate(213.0 1156.2) scale(0.9479 1)" font-size="34.8" font-weight="bold" text-anchor="middle" fill="#fff" stroke="#fff" stroke-width="0.35" xml:space="preserve">537</text>
<text transform="translate(213.0 1196.5) scale(0.9479 1)" font-size="35.3" text-anchor="middle" fill="#fff" xml:space="preserve">875km</text>
<text transform="translate(215.2 1235.2) scale(0.9479 1)" font-size="35.3" font-weight="bold" font-style="italic" text-anchor="middle" fill="#fff" stroke="#fff" stroke-width="0.35" xml:space="preserve">2,3kt</text>
<text transform="translate(445.5 1171.4) scale(0.9479 1)" font-size="34.8" font-weight="bold" text-anchor="middle" fill="#fff" stroke="#fff" stroke-width="0.35" xml:space="preserve">486</text>
<text transform="translate(445.5 1211.7) scale(0.9479 1)" font-size="35.3" text-anchor="middle" fill="#fff" xml:space="preserve">993km</text>
<text transform="translate(447.7 1250.4) scale(0.9479 1)" font-size="35.3" font-weight="bold" font-style="italic" text-anchor="middle" fill="#fff" stroke="#fff" stroke-width="0.35" xml:space="preserve">2,4kt</text>
<text transform="translate(677.9 1003.7) scale(0.9479 1)" font-size="34.8" font-weight="bold" text-anchor="middle" fill="#fff" stroke="#fff" stroke-width="0.35" xml:space="preserve">1.040</text>
<text transform="translate(677.9 1044.0) scale(0.9479 1)" font-size="35.3" text-anchor="middle" fill="#fff" xml:space="preserve">1.646km</text>
<text transform="translate(680.1 1082.7) scale(0.9479 1)" font-size="35.3" font-weight="bold" font-style="italic" text-anchor="middle" fill="#fff" stroke="#fff" stroke-width="0.35" xml:space="preserve">9,7kt</text>
<text transform="translate(910.3 1128.0) scale(0.9479 1)" font-size="34.8" font-weight="bold" text-anchor="middle" fill="#fff" stroke="#fff" stroke-width="0.35" xml:space="preserve">630</text>
<text transform="translate(910.3 1168.3) scale(0.9479 1)" font-size="35.3" text-anchor="middle" fill="#fff" xml:space="preserve">824km</text>
<text transform="translate(912.5 1207.0) scale(0.9479 1)" font-size="35.3" font-weight="bold" font-style="italic" text-anchor="middle" fill="#fff" stroke="#fff" stroke-width="0.35" xml:space="preserve">2,6kt</text>
<text transform="translate(1142.8 1161.7) scale(0.9479 1)" font-size="34.8" font-weight="bold" text-anchor="middle" fill="#fff" stroke="#fff" stroke-width="0.35" xml:space="preserve">519</text>
<text transform="translate(1142.8 1202.0) scale(0.9479 1)" font-size="35.3" text-anchor="middle" fill="#fff" xml:space="preserve">780km</text>
<text transform="translate(1145.0 1240.7) scale(0.9479 1)" font-size="35.3" font-weight="bold" font-style="italic" text-anchor="middle" fill="#fff" stroke="#fff" stroke-width="0.35" xml:space="preserve">2,0kt</text>
<text transform="translate(678.0 1226.2) scale(0.9479 1)" font-size="35.3" font-weight="bold" text-anchor="middle" fill="#fff" stroke="#fff" stroke-width="0.35" xml:space="preserve">Davos</text>
<text transform="translate(678.0 1263.8) scale(0.9479 1)" font-size="35.3" font-weight="bold" text-anchor="middle" fill="#fff" stroke="#fff" stroke-width="0.35" xml:space="preserve">WEF</text>
<text transform="translate(213.0 1317.3) scale(0.9800 1)" font-size="30.5" text-anchor="middle" fill="#231f20" xml:space="preserve">7 mei</text>
<text transform="translate(445.5 1317.3) scale(0.9800 1)" font-size="30.5" text-anchor="middle" fill="#231f20" xml:space="preserve">14 mei</text>
<text transform="translate(677.9 1317.3) scale(0.9800 1)" font-size="30.5" font-weight="bold" text-anchor="middle" fill="#231f20" stroke="#231f20" stroke-width="0.35" xml:space="preserve">21 mei</text>
<text transform="translate(910.3 1317.3) scale(0.9800 1)" font-size="30.5" text-anchor="middle" fill="#231f20" xml:space="preserve">28 mei</text>
<text transform="translate(1142.8 1317.3) scale(0.9800 1)" font-size="30.5" text-anchor="middle" fill="#231f20" xml:space="preserve">4 juni</text>
<text transform="translate(20.5 1366.0) scale(0.9586 1)" font-size="35.3" font-weight="bold" fill="#231f20" stroke="#231f20" stroke-width="0.35" xml:space="preserve">AANTAL ULTRAKORTE-AFSTANDSVLUCHTEN TIJDENS WEF 2022</text>
<text transform="translate(21.5 1405.9) scale(0.9550 1)" font-size="35.3" font-style="italic" fill="#231f20" xml:space="preserve">(binnen een bereik van 0-250km)</text>
<text transform="translate(85.3 1449.1) scale(0.9700 1)" font-size="30.5" text-anchor="end" fill="#231f20" xml:space="preserve">80</text>
<text transform="translate(85.3 1540.4) scale(0.9700 1)" font-size="30.5" text-anchor="end" fill="#231f20" xml:space="preserve">60</text>
<text transform="translate(85.3 1631.1) scale(0.9700 1)" font-size="30.5" text-anchor="end" fill="#231f20" xml:space="preserve">40</text>
<text transform="translate(85.3 1721.6) scale(0.9700 1)" font-size="30.5" text-anchor="end" fill="#231f20" xml:space="preserve">20</text>
<text transform="translate(85.3 1812.1) scale(0.9700 1)" font-size="30.5" text-anchor="end" fill="#231f20" xml:space="preserve">0</text>
<text transform="translate(213.0 1784.0) scale(0.9479 1)" font-size="34.8" font-weight="bold" text-anchor="middle" fill="#231f20" stroke="#231f20" stroke-width="0.35" xml:space="preserve">3</text>
<text transform="translate(445.5 1558.8) scale(0.9479 1)" font-size="34.8" font-weight="bold" text-anchor="middle" fill="#fff" stroke="#fff" stroke-width="0.35" xml:space="preserve">64</text>
<text transform="translate(677.9 1740.3) scale(0.9479 1)" font-size="34.8" font-weight="bold" text-anchor="middle" fill="#fff" stroke="#fff" stroke-width="0.35" xml:space="preserve">24</text>
<text transform="translate(910.3 1794.8) scale(0.9479 1)" font-size="34.8" font-weight="bold" text-anchor="middle" fill="#fff" stroke="#fff" stroke-width="0.35" xml:space="preserve">12</text>
<text transform="translate(1142.8 1522.8) scale(0.9479 1)" font-size="34.8" font-weight="bold" text-anchor="middle" fill="#fff" stroke="#fff" stroke-width="0.35" xml:space="preserve">72</text>
<text transform="translate(213.0 1846.8) scale(0.9800 1)" font-size="30.5" text-anchor="middle" fill="#231f20" xml:space="preserve">0-50km</text>
<text transform="translate(445.5 1846.8) scale(0.9800 1)" font-size="30.5" text-anchor="middle" fill="#231f20" xml:space="preserve">51-100km</text>
<text transform="translate(677.9 1846.8) scale(0.9800 1)" font-size="30.5" text-anchor="middle" fill="#231f20" xml:space="preserve">101-150km</text>
<text transform="translate(910.3 1846.8) scale(0.9800 1)" font-size="30.5" text-anchor="middle" fill="#231f20" xml:space="preserve">151-200km</text>
<text transform="translate(1142.8 1846.8) scale(0.9800 1)" font-size="30.5" text-anchor="middle" fill="#231f20" xml:space="preserve">201-250km</text>
<use href="#pl" transform="translate(214.592 940.04) rotate(140.1) scale(0.94 0.945)" fill="#fff" stroke="#fff" stroke-width="3.19" stroke-linejoin="round"/><use href="#pl" transform="translate(214.592 940.04) rotate(140.1) scale(0.94 0.945)" fill="#939598"/>
<use href="#pl" transform="translate(343.1 994.7) rotate(-54) scale(0.633 0.633)" fill="#fff" stroke="#fff" stroke-width="4.74" stroke-linejoin="round"/><use href="#pl" transform="translate(343.1 994.7) rotate(-54) scale(0.633 0.633)" fill="#939598"/>
<use href="#pl" transform="translate(526.1 999.9) rotate(105.1) scale(0.94 0.945)" fill="#fff" stroke="#fff" stroke-width="3.19" stroke-linejoin="round"/><use href="#pl" transform="translate(526.1 999.9) rotate(105.1) scale(0.94 0.945)" fill="#939598"/>
<use href="#pl" transform="translate(1044.6 1012) rotate(226) scale(0.633 0.633)" fill="#fff" stroke="#fff" stroke-width="4.74" stroke-linejoin="round"/><use href="#pl" transform="translate(1044.6 1012) rotate(226) scale(0.633 0.633)" fill="#939598"/>
<use href="#pl" transform="translate(1106.9 930.2) rotate(35.7) scale(0.94 0.945)" fill="#fff" stroke="#fff" stroke-width="3.19" stroke-linejoin="round"/><use href="#pl" transform="translate(1106.9 930.2) rotate(35.7) scale(0.94 0.945)" fill="#939598"/>
<use href="#pl" transform="translate(1227.06 1440.31) rotate(238.4) scale(0.633 0.633)" fill="#fff" stroke="#fff" stroke-width="4.74" stroke-linejoin="round"/><use href="#pl" transform="translate(1227.06 1440.31) rotate(238.4) scale(0.633 0.633)" fill="#939598"/>
<use href="#pl" transform="translate(484.12 1423.86) rotate(96) scale(0.633 0.633)" fill="#fff" stroke="#fff" stroke-width="4.74" stroke-linejoin="round"/><use href="#pl" transform="translate(484.12 1423.86) rotate(96) scale(0.633 0.633)" fill="#939598"/>
<use href="#pl" transform="translate(620.016 1502.1) rotate(92.3) scale(0.633 0.633)" fill="#fff" stroke="#fff" stroke-width="4.74" stroke-linejoin="round"/><use href="#pl" transform="translate(620.016 1502.1) rotate(92.3) scale(0.633 0.633)" fill="#939598"/>
<use href="#pl" transform="translate(903.8 1413.4) rotate(72.5) scale(0.94 0.945)" fill="#fff" stroke="#fff" stroke-width="3.19" stroke-linejoin="round"/><use href="#pl" transform="translate(903.8 1413.4) rotate(72.5) scale(0.94 0.945)" fill="#939598"/>
<use href="#pl" transform="translate(814.23 1672.99) rotate(263.4) scale(0.48 0.48)" fill="#fff" stroke="#fff" stroke-width="6.25" stroke-linejoin="round"/><use href="#pl" transform="translate(814.23 1672.99) rotate(263.4) scale(0.48 0.48)" fill="#939598"/>
<use href="#pl" transform="translate(174.188 1672.99) rotate(-67.8) scale(0.633 0.633)" fill="#fff" stroke="#fff" stroke-width="4.74" stroke-linejoin="round"/><use href="#pl" transform="translate(174.188 1672.99) rotate(-67.8) scale(0.633 0.633)" fill="#939598"/>
<text transform="translate(18.8 1883.6) scale(0.9477 1)" font-size="27.4" fill="#231f20" xml:space="preserve">Bronnen: The Guardian, CE Delf, WEF, Google Maps</text>
<text transform="translate(1257.6 1883.6) scale(0.9612 1)" font-size="28.3" text-anchor="end" fill="#231f20" xml:space="preserve">© GRAPHIC NEWS</text>
</svg></body></html>
